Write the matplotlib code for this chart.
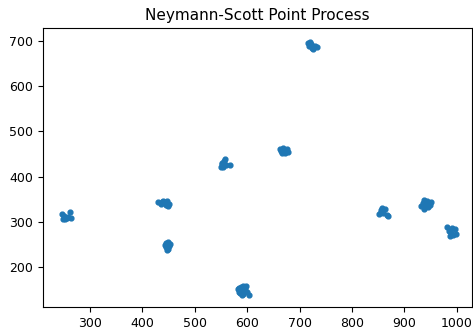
import matplotlib.pyplot as plt
import numpy as np

# cluster points (x, y)
cluster_a_x = [248, 251, 253, 256, 259, 262, 265, 250]
cluster_a_y = [318, 312, 305, 308, 310, 322, 308, 307]
cluster_b_x = [430, 435, 440, 443, 446, 448, 450, 452, 438]
cluster_b_y = [343, 340, 346, 342, 338, 345, 335, 340, 344]
cluster_c_x = [443, 446, 448, 450, 452, 454, 447, 445, 449]
cluster_c_y = [248, 252, 244, 240, 247, 250, 238, 245, 255]
cluster_d_x = [550, 553, 556, 558, 560, 555, 568, 552]
cluster_d_y = [422, 428, 434, 438, 425, 420, 425, 431]
cluster_e_x = [582, 585, 588, 590, 592, 595, 598, 600, 603, 587, 593, 597, 590, 585]
cluster_e_y = [150, 145, 155, 148, 140, 152, 158, 145, 138, 142, 157, 150, 137, 153]
cluster_f_x = [662, 665, 668, 670, 673, 676, 679, 667]
cluster_f_y = [460, 456, 463, 458, 452, 460, 455, 453]
cluster_g_x = [716, 718, 720, 723, 726, 730, 733, 721]
cluster_g_y = [695, 690, 698, 685, 682, 688, 686, 693]
cluster_h_x = [852, 856, 858, 860, 863, 866, 868, 855]
cluster_h_y = [318, 325, 330, 320, 327, 315, 312, 322]
cluster_i_x = [932, 935, 937, 940, 943, 945, 948, 950, 938, 942]
cluster_i_y = [335, 342, 328, 340, 345, 332, 338, 343, 347, 335]
cluster_j_x = [982, 985, 988, 990, 993, 997, 999, 987]
cluster_j_y = [288, 280, 275, 285, 270, 283, 272, 268]

xs = np.concatenate([cluster_a_x, cluster_b_x, cluster_c_x, cluster_d_x, cluster_e_x,
                     cluster_f_x, cluster_g_x, cluster_h_x, cluster_i_x, cluster_j_x])
ys = np.concatenate([cluster_a_y, cluster_b_y, cluster_c_y, cluster_d_y, cluster_e_y,
                     cluster_f_y, cluster_g_y, cluster_h_y, cluster_i_y, cluster_j_y])

fig = plt.figure(figsize=(4.73, 3.31), dpi=100)
ax = fig.add_axes([0.091, 0.0725, 0.907, 0.843])

ax.scatter(xs, ys, s=12, color='#1f77b4')
ax.set_xlim(211, 1029)
ax.set_ylim(111, 729)
ax.set_xticks(range(300, 1001, 100))
ax.set_yticks(range(200, 701, 100))
ax.tick_params(labelsize=9)
ax.set_title("Neymann-Scott Point Process", fontsize=11)

plt.savefig("out.png", dpi=100)
